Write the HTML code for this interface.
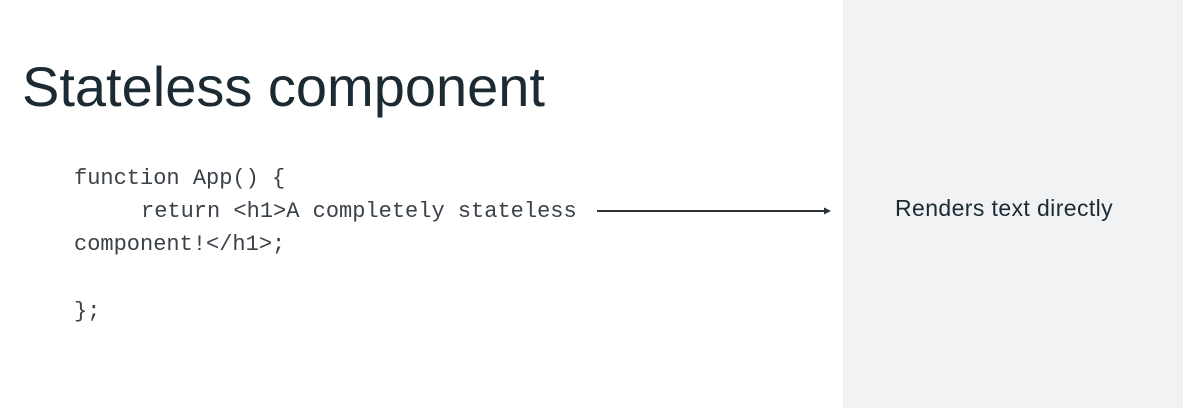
<!DOCTYPE html>
<html><head><meta charset="utf-8"><style>
body{margin:0;width:1183px;height:408px;background:#fff;position:relative;overflow:hidden;font-family:"Liberation Sans",sans-serif;color:#1c2b33}
#title{position:absolute;left:22px;top:52px;font-size:56px;line-height:70px;white-space:nowrap}
.code{position:absolute;font-family:"Liberation Mono",monospace;font-size:22px;color:#3a4148;white-space:pre;line-height:24px}
#panel{position:absolute;left:843px;top:0;width:340px;height:408px;background:#f1f2f4}
#note{position:absolute;left:895px;top:195px;font-size:23px;letter-spacing:0.4px;white-space:nowrap;color:#1c2b33}
</style></head><body>
<div id="panel"></div>
<div id="title">Stateless component</div>
<div class="code" style="left:74px;top:167px">function App() {</div>
<div class="code" style="left:141px;top:200px">return &lt;h1&gt;A completely stateless</div>
<div class="code" style="left:74px;top:233px">component!&lt;/h1&gt;;</div>
<div class="code" style="left:74px;top:300px">};</div>
<svg style="position:absolute;left:0;top:0" width="1183" height="408">
<line x1="597" y1="211" x2="826" y2="211" stroke="#2b3238" stroke-width="2"/>
<polygon points="824,207.5 831,211 824,214.5" fill="#2b3238"/>
</svg>
<div id="note">Renders text directly</div>
</body></html>
